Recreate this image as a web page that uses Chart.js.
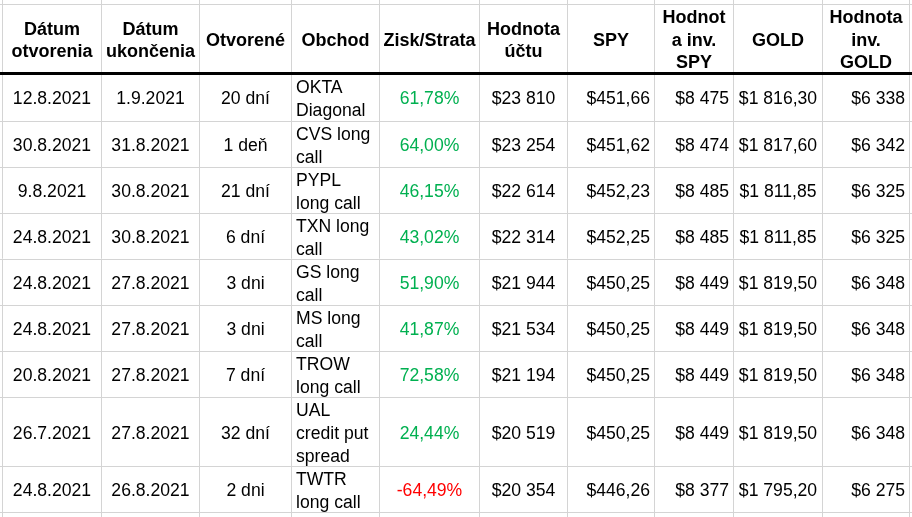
<!DOCTYPE html>
<html>
<head>
<meta charset="utf-8">
<script src="https://cdn.jsdelivr.net/npm/chart.js@4.4.0/dist/chart.umd.min.js"></script>
<style>
  html, body { margin: 0; padding: 0; background: #fff; }
  canvas { display: block; }
</style>
</head>
<body>
<canvas id="tableChart" width="912" height="517"></canvas>
<script>
/* Data */
const headers = [
    ["Dátum", "otvorenia"],
    ["Dátum", "ukončenia"],
    ["Otvorené"],
    ["Obchod"],
    ["Zisk/Strata"],
    ["Hodnota", "účtu"],
    ["SPY"],
    ["Hodnot", "a inv.", "SPY"],
    ["GOLD"],
    ["Hodnota", "inv.", "GOLD"]
];
const openDates  = ["12.8.2021", "30.8.2021", "9.8.2021", "24.8.2021", "24.8.2021", "24.8.2021", "20.8.2021", "26.7.2021", "24.8.2021"];
const closeDates = ["1.9.2021", "31.8.2021", "30.8.2021", "30.8.2021", "27.8.2021", "27.8.2021", "27.8.2021", "27.8.2021", "26.8.2021"];
const daysOpen   = ["20 dní", "1 deň", "21 dní", "6 dní", "3 dni", "3 dni", "7 dní", "32 dní", "2 dni"];
const trades     = ["OKTA Diagonal", "CVS long call", "PYPL long call", "TXN long call", "GS long call", "MS long call", "TROW long call", "UAL credit put spread", "TWTR long call"];
const pnl        = [61.78, 64.00, 46.15, 43.02, 51.90, 41.87, 72.58, 24.44, -64.49];
const account    = [23810, 23254, 22614, 22314, 21944, 21534, 21194, 20519, 20354];
const spy        = [451.66, 451.62, 452.23, 452.25, 450.25, 450.25, 450.25, 450.25, 446.26];
const spyInv     = [8475, 8474, 8485, 8485, 8449, 8449, 8449, 8449, 8377];
const gold       = [1816.30, 1817.60, 1811.85, 1811.85, 1819.50, 1819.50, 1819.50, 1819.50, 1795.20];
const goldInv    = [6338, 6342, 6325, 6325, 6348, 6348, 6348, 6348, 6275];

/* Layout (sheet geometry) */
const colEdges = [2.5, 101.5, 199.5, 291.5, 379.5, 479.5, 567.5, 654.5, 733.5, 822.5, 909.5];
const rowEdges = [4.5, 73.5, 121.5, 167.5, 213.5, 259.5, 305.5, 351.5, 397.5, 466.5, 512.5];
const aligns = ["center", "center", "center", "left", "center", "center", "right", "right", "center", "right"];
const FONT = '"Liberation Sans", Arial, sans-serif';
const PAD = 4.5;

function groupDigits(s){
    return s.replace(/\B(?=(\d{3})+(?!\d))/g, " ");
}
function money(n){
    return "$" + groupDigits(String(Math.round(n)));
}
function money2(n){
    const parts = n.toFixed(2).split(".");
    return "$" + groupDigits(parts[0]) + "," + parts[1];
}
function pct(n){
    return n.toFixed(2).replace(".", ",") + "%";
}

function wrap(ctx, text, maxWidth){
    const words = text.split(" ");
    const lines = [];
    let line = "";
    words.forEach(w => {
        const test = line ? line + " " + w : w;
        if (line && ctx.measureText(test).width > maxWidth) {
            lines.push(line);
            line = w;
        } else {
            line = test;
        }
    });
    if (line) lines.push(line);
    return lines;
}

function drawCell(ctx, x, y, c, r, lines, lineGap, color){
    const left = x.getPixelForValue(colEdges[c]);
    const right = x.getPixelForValue(colEdges[c + 1]);
    const top = y.getPixelForValue(rowEdges[r]);
    const bottom = y.getPixelForValue(rowEdges[r + 1]);
    const cy = (top + bottom) / 2 + 0.5;
    const size = parseFloat(ctx.font.match(/([\d.]+)px/)[1]);
    const cap = size * 0.716 / 2;
    let tx;
    if (aligns[c] === "left") { ctx.textAlign = "left"; tx = left + PAD; }
    else if (aligns[c] === "right") { ctx.textAlign = "right"; tx = right - PAD; }
    else { ctx.textAlign = "center"; tx = (left + right) / 2; }
    ctx.fillStyle = color || "#000";
    lines.forEach((ln, i) => {
        const ly = cy + (i - (lines.length - 1) / 2) * lineGap + cap;
        ctx.fillText(ln, tx, ly);
    });
}

const tablePlugin = {
    id: "tableCells",
    afterDraw(chart){
        const ctx = chart.ctx;
        const x = chart.scales.x, y = chart.scales.y;
        ctx.save();
        ctx.textBaseline = "alphabetic";

        /* header */
        ctx.font = "bold 18px " + FONT;
        headers.forEach((h, c) => {
            const saved = aligns[c];
            aligns[c] = "center";
            drawCell(ctx, x, y, c, 0, h, 22.5);
            aligns[c] = saved;
        });

        /* body */
        ctx.font = "17.6px " + FONT;
        openDates.forEach((d, i) => {
            const tradeWidth = x.getPixelForValue(colEdges[4]) - x.getPixelForValue(colEdges[3]) - 2 * PAD;
            const cells = [
                [openDates[i]],
                [closeDates[i]],
                [daysOpen[i]],
                wrap(ctx, trades[i], tradeWidth),
                [pct(pnl[i])],
                [money(account[i])],
                [money2(spy[i])],
                [money(spyInv[i])],
                [money2(gold[i])],
                [money(goldInv[i])]
            ];
            cells.forEach((lines, c) => {
                let color = "#000";
                if (c === 4) color = pnl[i] >= 0 ? "#00B050" : "#FF0000";
                drawCell(ctx, x, y, c, i + 1, lines, 23, color);
            });
        });
        ctx.restore();
    }
};

new Chart(document.getElementById("tableChart"), {
    type: "scatter",
    data: { datasets: [{ data: [] }] },
    options: {
        responsive: false,
        animation: false,
        devicePixelRatio: 1,
        layout: { padding: 0 },
        plugins: { legend: { display: false }, tooltip: { enabled: false } },
        scales: {
            x: {
                type: "linear",
                min: 0,
                max: 912,
                afterBuildTicks: s => { s.ticks = colEdges.map(v => ({ value: v })); },
                afterFit: s => { s.height = 0; },
                ticks: { display: false },
                border: { display: false },
                grid: { color: "#d4d4d4", lineWidth: 1, drawTicks: false, z: -2 }
            },
            y: {
                type: "linear",
                min: 0,
                max: 517,
                reverse: true,
                afterBuildTicks: s => { s.ticks = rowEdges.map(v => ({ value: v })); },
                afterFit: s => { s.width = 0; },
                ticks: { display: false },
                border: { display: false },
                grid: {
                    drawTicks: false,
                    z: -1,
                    color: c => (c.tick && c.tick.value === rowEdges[1]) ? "#000" : "#d4d4d4",
                    lineWidth: c => (c.tick && c.tick.value === rowEdges[1]) ? 3 : 1
                }
            }
        }
    },
    plugins: [tablePlugin]
});
</script>
</body>
</html>
